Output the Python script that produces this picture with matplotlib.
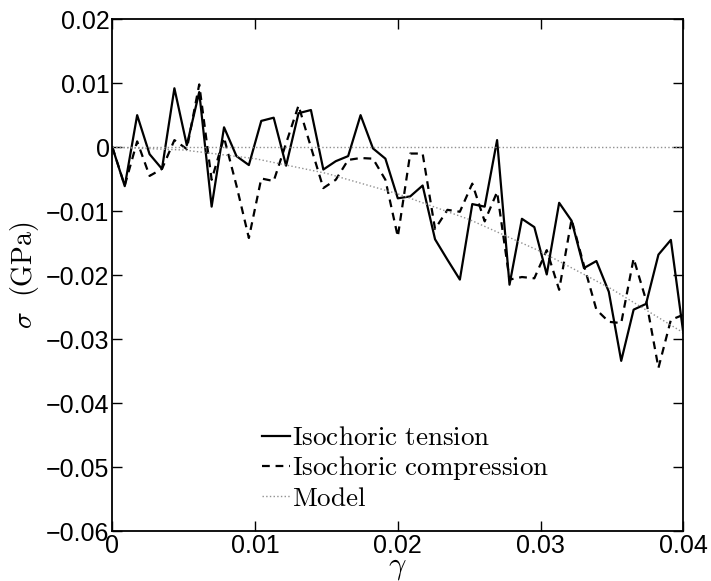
import numpy as np
import matplotlib
matplotlib.use('Agg')
import matplotlib.pyplot as plt

plt.rcParams['mathtext.fontset'] = 'cm'
plt.rcParams['font.family'] = ['Liberation Sans', 'DejaVu Sans']

# strain grid (47 samples, 0 -> 0.04)
gamma = np.linspace(0, 0.04, 47)

tension = [0.0, -0.0061, 0.0050, -0.0011, -0.0034, 0.0092, 0.0003, 0.0086, -0.0093, 0.0031,
           -0.0014, -0.0028, 0.0041, 0.0046, -0.0029, 0.0053, 0.0058, -0.0035, -0.0022, -0.0014,
           0.0050, -0.0002, -0.0018, -0.0080, -0.0077, -0.0060, -0.0144, -0.0176, -0.0207, -0.0089,
           -0.0093, 0.0011, -0.0215, -0.0112, -0.0125, -0.0199, -0.0087, -0.0115, -0.0189, -0.0178,
           -0.0226, -0.0334, -0.0254, -0.0245, -0.0168, -0.0145, -0.0290]

compression = [0.0, -0.0060, 0.0009, -0.0045, -0.0034, 0.0011, -0.0003, 0.0098, -0.0051, 0.0015,
               -0.0060, -0.0142, -0.0049, -0.0053, 0.0006, 0.0065, 0.0000, -0.0064, -0.0051, -0.0020,
               -0.0017, -0.0018, -0.0051, -0.0140, -0.0010, -0.0010, -0.0128, -0.0098, -0.0101, -0.0057,
               -0.0116, -0.0070, -0.0207, -0.0203, -0.0205, -0.0161, -0.0223, -0.0113, -0.0185, -0.0254,
               -0.0273, -0.0275, -0.0174, -0.0239, -0.0345, -0.0270, -0.0262]

# model curves
model_gamma = [0.0, 0.005, 0.01, 0.015, 0.02, 0.025, 0.03, 0.035, 0.04]
model_comp = [0.0, -0.00045, -0.0018, -0.0041, -0.0073, -0.0113, -0.0163, -0.0222, -0.0290]
model_tens = [0.0, 0.0, 0.0, 0.0, 0.0, 0.0, 0.0, 0.0, 0.0]

fig = plt.figure(figsize=(7.11, 5.81), dpi=100)
ax = fig.add_axes([0.158, 0.086, 0.803, 0.881])

ax.plot(gamma, tension, '-', color='black', lw=1.6, label=r'$\mathrm{Isochoric\ tension}$')
ax.plot(gamma, compression, '--', color='black', lw=1.6, dashes=(3.5, 2.6),
        label=r'$\mathrm{Isochoric\ compression}$')
ax.plot(model_gamma, model_tens, ':', color='#909090', lw=1.0, label=r'$\mathrm{Model}$')
ax.plot(model_gamma, model_comp, ':', color='#909090', lw=1.0)

ax.set_xlim(0, 0.04)
ax.set_ylim(-0.06, 0.02)
ax.set_xticks([0, 0.01, 0.02, 0.03, 0.04])
ax.set_xticklabels(['0', '0.01', '0.02', '0.03', '0.04'])
ax.set_yticks(np.arange(-0.06, 0.0201, 0.01))
ax.set_yticklabels(['\u22120.06', '\u22120.05', '\u22120.04', '\u22120.03', '\u22120.02',
                    '\u22120.01', '0', '0.01', '0.02'])
ax.tick_params(direction='in', length=7, width=1, top=True, right=True,
               labelsize=18, pad=2)
for s in ax.spines.values():
    s.set_linewidth(1.3)

ax.set_xlabel(r'$\gamma$', fontsize=22, labelpad=-4)
ax.set_ylabel(r'$\sigma\ \ \mathrm{(GPa)}$', fontsize=20, labelpad=4)

ax.legend(loc='lower left', bbox_to_anchor=(0.2616, 0.038), frameon=False, fontsize=19.5,
          handlelength=1.03, handletextpad=0.09, labelspacing=0.12,
          borderpad=0, borderaxespad=0)

fig.savefig('out.png', dpi=100)
